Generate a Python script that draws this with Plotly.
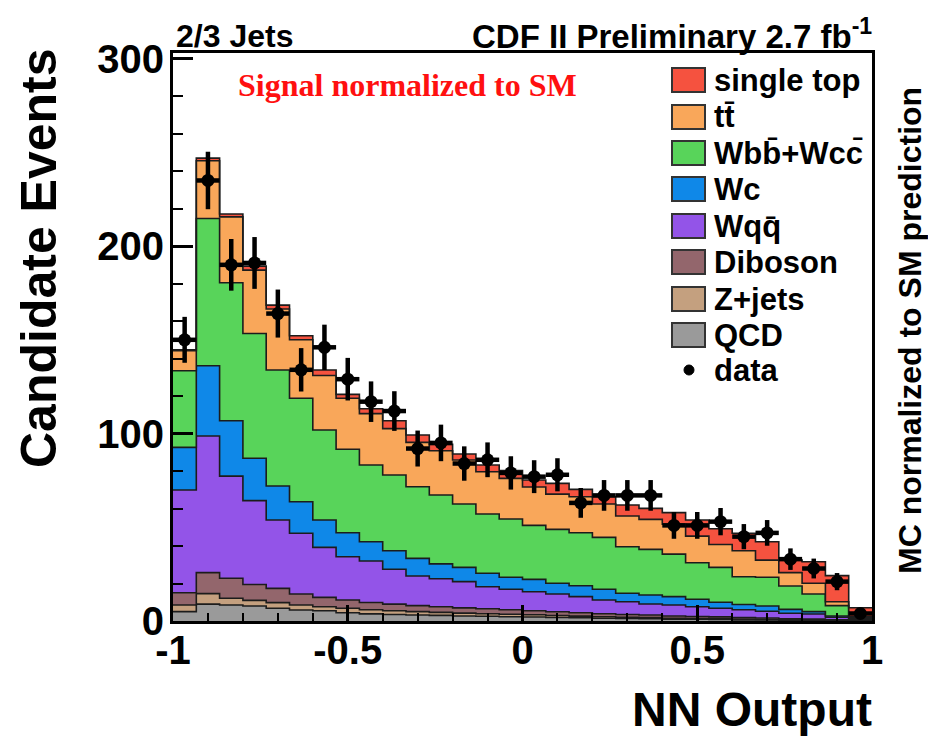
import numpy as np
import plotly.graph_objects as go

# ---- NN output histogram (30 bins from -1 to 1) ----
bin_lo, bin_hi, n_bins = -1.0, 1.0, 30

qcd = [5.0, 9.0, 8.5, 8.0, 6.8, 5.9, 5.5, 4.4, 3.8, 3.5, 3.2, 3.0, 2.7, 2.5, 2.3,
       2.1, 1.9, 1.7, 1.5, 1.3, 1.2, 1.0, 0.9, 0.8, 0.6, 0.5, 0.4, 0.3, 0.2, 0.1]
zjets = [3.5, 5.6, 3.6, 3.0, 3.0, 2.6, 2.1, 2.4, 2.2, 2.0, 1.8, 1.6, 1.5, 1.4, 1.3,
         1.2, 1.0, 0.9, 0.8, 0.7, 0.6, 0.5, 0.4, 0.4, 0.3, 0.3, 0.2, 0.2, 0.1, 0.05]
diboson = [6.6, 11.2, 10.7, 8.5, 7.6, 5.9, 5.0, 4.4, 3.9, 3.5, 3.2, 3.0, 2.8, 2.6, 2.4,
           2.2, 2.0, 1.8, 1.6, 1.5, 1.4, 1.2, 1.1, 1.0, 0.9, 0.8, 0.6, 0.5, 0.4, 0.2]
wqq = [54.8, 72.9, 54.5, 44.7, 36.5, 32.4, 26.7, 23.1, 22.1, 18.6, 15.8, 14.9, 14.0, 11.8, 10.9,
       10.1, 9.5, 8.6, 7.3, 6.8, 5.9, 5.8, 5.2, 4.6, 4.2, 3.6, 2.9, 2.7, 1.3, 0.65]
wc = [22.7, 37.5, 29.5, 22.6, 18.1, 16.8, 14.6, 12.8, 10.3, 9.9, 9.4, 8.0, 7.6, 7.2, 6.4,
      6.6, 5.7, 5.8, 5.7, 4.5, 4.8, 4.5, 4.0, 3.2, 2.8, 2.8, 2.1, 1.3, 0.7, 0.5]
wbb_wcc = [40.9, 78.5, 73.6, 66.6, 61.9, 55.2, 48.0, 44.5, 40.9, 40.4, 38.2, 36.7, 33.8, 31.6, 31.1,
           28.8, 28.8, 28.3, 27.7, 24.8, 24.3, 22.7, 19.5, 18.6, 14.8, 15.3, 12.5, 9.4, 5.5, 0.5]
ttbar = [10.7, 30.8, 35.2, 33.8, 32.5, 31.2, 29.1, 27.2, 27.4, 24.7, 23.7, 23.6, 23.5, 22.5, 21.7,
         20.5, 18.8, 19.2, 17.8, 16.4, 16.0, 16.0, 14.2, 12.2, 13.9, 9.2, 7.1, 5.7, 2.1, 0.2]
single_top = [0.5, 1.4, 1.5, 2.1, 2.1, 2.2, 2.9, 2.1, 2.6, 4.2, 3.9, 3.4, 3.2, 3.6, 4.1,
              3.7, 5.7, 3.9, 3.9, 5.9, 5.9, 6.1, 8.6, 8.4, 9.3, 9.8, 6.7, 11.5, 13.9, 4.9]
data = [150, 235, 190, 191, 164, 134, 146, 129, 117, 112, 92, 95, 84, 86, 79,
        77, 78, 63, 67, 67, 67, 51, 51, 53, 45, 47, 33, 28, 21, 4]

# stacking order, bottom to top
components = [
    ("QCD", qcd, "#9a9a9a"),
    ("Z+jets", zjets, "#c4a07f"),
    ("Diboson", diboson, "#93666c"),
    ("Wqq\u0304", wqq, "#9354e8"),
    ("Wc", wc, "#0f88e8"),
    ("Wbb\u0304+Wcc\u0304", wbb_wcc, "#58d45a"),
    ("tt\u0304", ttbar, "#f9a75a"),
    ("single top", single_top, "#f5523f"),
]

edges = np.linspace(bin_lo, bin_hi, n_bins + 1)
centers = 0.5 * (edges[:-1] + edges[1:])
half_w = 0.5 * (edges[1] - edges[0])

fig = go.Figure()

# stacked step histograms
cum = np.zeros(n_bins)
for i, (name, vals, col) in enumerate(components):
    cum = cum + np.asarray(vals, dtype=float)
    ys = np.append(cum, cum[-1])
    fig.add_trace(go.Scatter(
        x=edges, y=ys, mode="lines", name=name,
        line=dict(shape="hv", color="#1c1c1c", width=1.6),
        fill="tozeroy" if i == 0 else "tonexty",
        fillcolor=col, showlegend=False, hoverinfo="skip",
    ))

# data points with Poisson errors
data_arr = np.asarray(data, dtype=float)
fig.add_trace(go.Scatter(
    x=centers, y=data_arr, mode="markers", name="data",
    marker=dict(color="black", size=13),
    error_y=dict(type="data", array=np.sqrt(data_arr), color="black", thickness=4.5, width=0),
    error_x=dict(type="data", array=np.full(n_bins, half_w), color="black", thickness=4.5, width=0),
    showlegend=False,
))

# ---- layout geometry (pixels) ----
W, H = 928, 737
L, R, T, B = 173, 872, 53, 621
pw, ph = R - L, B - T


def px(xp):
    return (xp - L) / pw


def py(yp):
    return (B - yp) / ph


font_fam = "Liberation Sans, Arial, Helvetica, sans-serif"

fig.update_layout(
    width=W, height=H,
    margin=dict(l=L, r=W - R, t=T, b=H - B, pad=0),
    paper_bgcolor="white", plot_bgcolor="white",
    font=dict(family=font_fam, color="black"),
    showlegend=False,
)

fig.update_xaxes(
    range=[-1, 1], showgrid=False, zeroline=False,
    showline=True, linewidth=3, linecolor="black", mirror=True,
    tickvals=[-1, -0.5, 0, 0.5, 1], ticktext=["-1", "-0.5", "0", "0.5", "1"],
    ticks="inside", ticklen=16, tickwidth=3, tickcolor="black",
    minor=dict(dtick=0.1, tick0=-1, ticks="inside", ticklen=8, tickwidth=2, tickcolor="black"),
    tickfont=dict(size=40, family=font_fam, weight="bold"),
    ticklabelstandoff=-8,
)
fig.update_yaxes(
    range=[0, 303], showgrid=False, zeroline=False,
    showline=True, linewidth=3, linecolor="black", mirror=True,
    tickvals=[0, 100, 200, 300],
    ticks="inside", ticklen=20, tickwidth=3, tickcolor="black",
    minor=dict(dtick=20, tick0=0, ticks="inside", ticklen=10, tickwidth=2, tickcolor="black"),
    tickfont=dict(size=40, family=font_fam, weight="bold"),
    ticklabelstandoff=-2,
)

annotations = [
    dict(text="Candidate Events", x=px(39), y=py(258), textangle=-90,
         font=dict(size=50, weight="bold")),
    dict(text="NN Output", x=px(873), y=py(737), xanchor="right", yanchor="bottom",
         borderpad=0, font=dict(size=48, weight="bold")),
    dict(text="2/3 Jets", x=px(174), y=py(36), xanchor="left",
         font=dict(size=32, weight="bold")),
    dict(text="CDF II Preliminary 2.7 fb<sup>-1</sup>", x=px(874), y=py(34), xanchor="right",
         font=dict(size=33, weight="bold")),
    dict(text="Signal normalized to SM", x=px(407), y=py(85),
         font=dict(size=32, weight="bold", color="#ff1010",
                   family="Liberation Serif, Times New Roman, serif")),
    dict(text="MC normalized to SM prediction", x=px(910), y=py(331), textangle=-90,
         font=dict(size=32, weight="bold")),
]

# legend: boxes and labels, top entry first
shapes = []
row_y = [80, 117, 153, 189, 226, 262, 299, 335]
for (name, vals, col), yc in zip(reversed(components), row_y):
    shapes.append(dict(type="rect", xref="paper", yref="paper",
                       x0=px(672), x1=px(705), y0=py(yc + 12), y1=py(yc - 12),
                       fillcolor=col, line=dict(color="#333333", width=2)))
    annotations.append(dict(text=name, x=px(712), y=py(yc), xanchor="left",
                            font=dict(size=31, weight="bold")))
shapes.append(dict(type="circle", xref="paper", yref="paper",
                   x0=px(684), x1=px(694), y0=py(375), y1=py(365),
                   fillcolor="black", line=dict(color="black", width=1)))
annotations.append(dict(text="data", x=px(712), y=py(370), xanchor="left",
                        font=dict(size=31, weight="bold")))

for a in annotations:
    a.setdefault("xref", "paper")
    a.setdefault("yref", "paper")
    a.setdefault("xanchor", "center")
    a.setdefault("yanchor", "middle")
    a.setdefault("showarrow", False)
fig.update_layout(annotations=annotations, shapes=shapes)

fig.write_html("out.html")
